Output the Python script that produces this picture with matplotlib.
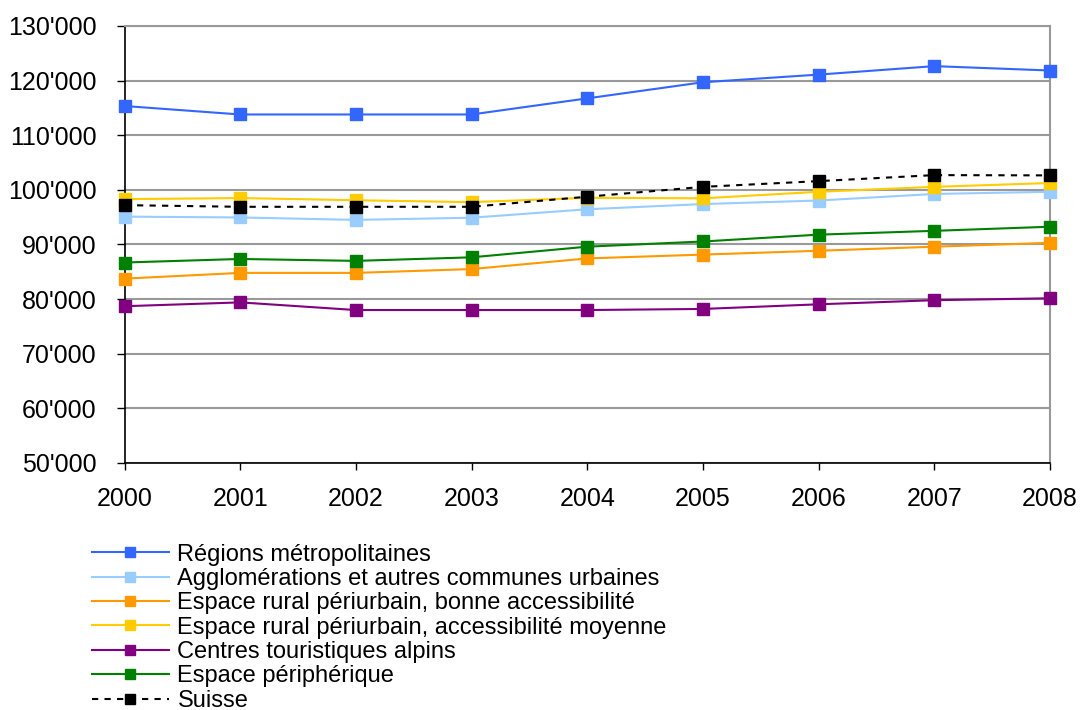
import matplotlib
matplotlib.use("Agg")
import matplotlib.pyplot as plt
from matplotlib.ticker import FuncFormatter

plt.rcParams['font.family'] = ['Liberation Sans', 'DejaVu Sans']

years = [2000, 2001, 2002, 2003, 2004, 2005, 2006, 2007, 2008]

metropolitaines = [115350, 113800, 113800, 113800, 116750, 119700, 121100, 122650, 121850]
agglomerations = [95100, 94950, 94500, 94900, 96450, 97400, 98050, 99250, 99650]
rural_bonne = [83750, 84800, 84800, 85500, 87450, 88150, 88850, 89600, 90300]
rural_moyenne = [98300, 98500, 98100, 97750, 98550, 98450, 99650, 100550, 101250]
touristiques = [78700, 79400, 78000, 78000, 78000, 78200, 79050, 79800, 80150]
peripherique = [86700, 87350, 87000, 87650, 89600, 90550, 91800, 92500, 93250]
suisse = [97200, 96900, 96900, 96900, 98750, 100550, 101600, 102700, 102650]

series = [
    ("Régions métropolitaines", metropolitaines, "#3366FF", "-"),
    ("Agglomérations et autres communes urbaines", agglomerations, "#99CCFF", "-"),
    ("Espace rural périurbain, bonne accessibilité", rural_bonne, "#FF9900", "-"),
    ("Espace rural périurbain, accessibilité moyenne", rural_moyenne, "#FFCC00", "-"),
    ("Centres touristiques alpins", touristiques, "#800080", "-"),
    ("Espace périphérique", peripherique, "#008000", "-"),
    ("Suisse", suisse, "#000000", (0, (3, 3))),
]

y_ticks = list(range(50000, 130001, 10000))

fig = plt.figure(figsize=(10.8, 7.1), dpi=100)
ax = fig.add_axes([0.1153, 0.3479, 0.8569, 0.6155])

for label, values, color, ls in series:
    ax.plot(years, values, color=color, linestyle=ls, linewidth=1.5,
            marker="s", markersize=8.5, markerfacecolor=color,
            markeredgecolor=color, label=label, clip_on=False, zorder=3)

ax.set_xlim(2000, 2008)
ax.set_ylim(50000, 130000)
ax.set_xticks(years)
ax.set_yticks(y_ticks)
ax.yaxis.set_major_formatter(FuncFormatter(lambda v, p: f"{int(v):,}".replace(",", "'")))

ax.grid(axis="y", color="#999999", linewidth=1.5, zorder=0)
ax.set_axisbelow(True)
for side in ("top", "right"):
    ax.spines[side].set_color("#999999")
    ax.spines[side].set_linewidth(1.5)
for side in ("left", "bottom"):
    ax.spines[side].set_color("#000000")
    ax.spines[side].set_linewidth(1.2)

ax.tick_params(axis="y", direction="out", length=6, width=1, pad=14,
               labelsize=18, colors="#000000")
ax.tick_params(axis="x", direction="out", length=5, width=1, pad=12,
               labelsize=18, colors="#000000")

fig.legend(loc="upper left", bbox_to_anchor=(0.076, 0.2476), frameon=False,
           fontsize=17, handlelength=3.3, handletextpad=0.34,
           labelspacing=0.10, markerscale=0.8, borderaxespad=0)

fig.savefig("out.png", dpi=100, facecolor="white")
